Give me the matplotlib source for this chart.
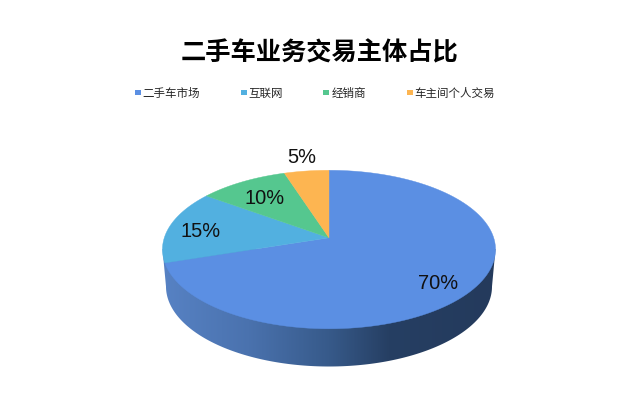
import numpy as np
import matplotlib
matplotlib.use("Agg")
import matplotlib.pyplot as plt
from matplotlib.colors import LinearSegmentedColormap
from matplotlib.patches import Polygon, Rectangle

plt.rcParams['font.family'] = ['Noto Sans CJK SC', 'DejaVu Sans']

# chart data
categories = ['二手车市场', '互联网', '经销商', '车主间个人交易']
shares = [70, 15, 10, 5]
share_labels = ['70%', '15%', '10%', '5%']
colors = ['#5B8FE3', '#52B0E0', '#55C78F', '#FDB551']

# geometry of the tilted disc, in pixels
CX, CY = 329, 238.8
A, B, K = 164.7, 77.5, 0.148
BOTTOM_CY, BOTTOM_A, BOTTOM_B = 287.5, 163, 80


def disc_point(theta):
    # theta runs clockwise from 12 o'clock, k gives the perspective of the top face
    x, y = np.sin(theta), np.cos(theta)
    w = 1 + K * y
    return CX + A * x / w, CY - B * y / w


fig = plt.figure(figsize=(6.4, 4.02), dpi=100)
ax = fig.add_axes([0, 0, 1, 1])
ax.set_xlim(0, 640)
ax.set_ylim(402, 0)
ax.axis('off')

# side wall: gradient clipped to the lower half of the base ellipse, joined up to the top face
t = np.linspace(0, np.pi, 200)
low_x = CX + BOTTOM_A * np.cos(t)
low_y = BOTTOM_CY + BOTTOM_B * np.sin(t)
wall = np.column_stack([np.r_[495.5, low_x, 162.5], np.r_[250, low_y, 250]])
wall_patch = Polygon(wall, closed=True, facecolor='none', edgecolor='none', zorder=2)
ax.add_patch(wall_patch)
cmap = LinearSegmentedColormap.from_list('wall', [
    (0.0, '#5782C4'), (0.26, '#4A72AE'), (0.5, '#375A8A'),
    (0.68, '#263F63'), (1.0, '#243A5C')])
img = ax.imshow(np.linspace(0, 1, 256)[None, :], cmap=cmap, aspect='auto',
                extent=[162, 496, 370, 240], zorder=2)
img.set_clip_path(wall_patch)
ax.set_xlim(0, 640)
ax.set_ylim(402, 0)

# top face
edges = np.r_[0, np.cumsum(shares)] / np.sum(shares) * 2 * np.pi
for start, end, color in zip(edges[:-1], edges[1:], colors):
    px, py = disc_point(np.linspace(start, end, 120))
    ax.add_patch(Polygon(np.column_stack([np.r_[CX, px], np.r_[CY, py]]), closed=True,
                         facecolor=color, edgecolor=color, linewidth=0.3, zorder=3))

# data labels
label_x = [438, 201, 265, 302]
label_y = [283.5, 231.5, 198.5, 157.5]
for lx, ly, text in zip(label_x, label_y, share_labels):
    ax.text(lx, ly, text, family='Liberation Sans', fontsize=14.4, color='#111111',
            ha='center', va='center', zorder=4)

# title
ax.text(320, 53, '二手车业务交易主体占比', fontsize=18.2, fontweight='bold',
        color='black', ha='center', va='center')

# legend
marker_x = [135, 241, 323, 407]
text_x = [142.5, 248.5, 331.5, 414.5]
for mx, tx, name, color in zip(marker_x, text_x, categories, colors):
    ax.add_patch(Rectangle((mx, 90.5), 5.5, 5.5, facecolor=color, edgecolor='none'))
    ax.text(tx, 93, name, fontsize=8.3, color='#262626', ha='left', va='center')

fig.savefig('out.png', dpi=100)
